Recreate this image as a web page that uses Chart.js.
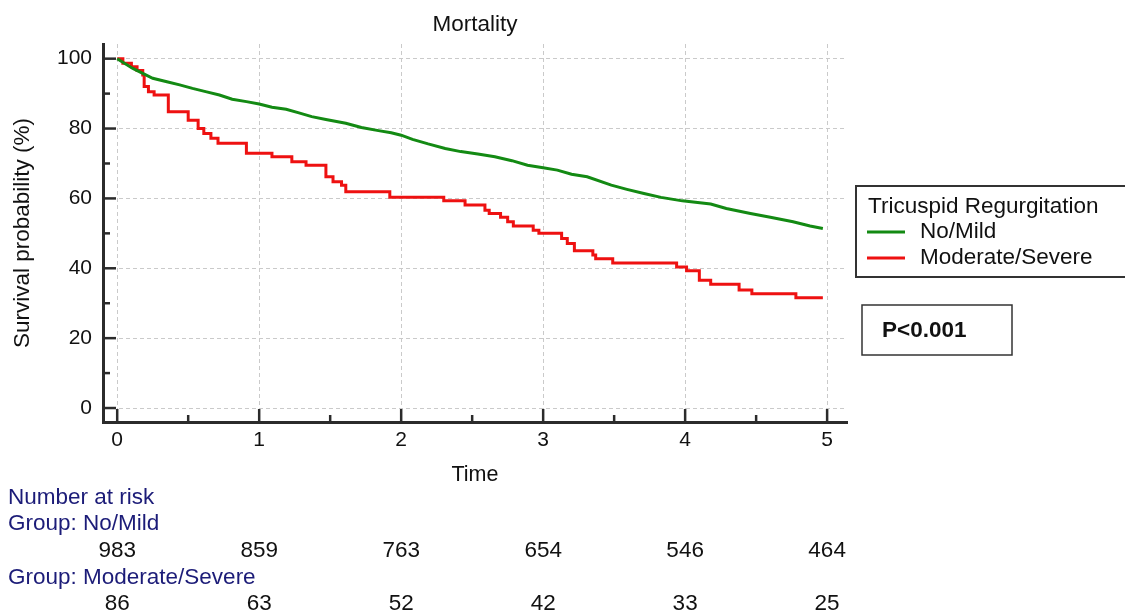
<!DOCTYPE html>
<html>
<head>
<meta charset="utf-8">
<title>Mortality</title>
<script src="https://cdn.jsdelivr.net/npm/chart.js@4.4.1/dist/chart.umd.min.js"></script>
<style>
  html, body { margin: 0; padding: 0; background: #fff; }
  #chart { display: block; }
</style>
</head>
<body>
<canvas id="chart" width="1125" height="613"></canvas>
<script>
const FONT = "'Liberation Sans', Arial, sans-serif";

// axis ticks
const xTicks = [0, 0.5, 1, 1.5, 2, 2.5, 3, 3.5, 4, 4.5, 5];
const yTicks = [0, 10, 20, 30, 40, 50, 60, 70, 80, 90, 100];

// number at risk
const riskTimes = [0, 1, 2, 3, 4, 5];
const riskNoMild = [983, 859, 763, 654, 546, 464];
const riskModSev = [86, 63, 52, 42, 33, 25];

// No/Mild survival
const noMildTime = [0, 0.11, 0.18, 0.25, 0.35, 0.44, 0.53, 0.63, 0.72, 0.81, 0.91, 1.0, 1.09, 1.19, 1.28, 1.37, 1.47,
  1.61, 1.72, 1.84, 1.93, 2.0, 2.08, 2.19, 2.31, 2.42, 2.54, 2.66, 2.78, 2.89, 3.0, 3.10, 3.20, 3.31, 3.48, 3.59,
  3.71, 3.83, 3.98, 4.18, 4.29, 4.46, 4.60, 4.76, 4.88, 4.97];
const noMildSurv = [100, 97.2, 95.8, 94.4, 93.4, 92.5, 91.5, 90.5, 89.6, 88.4, 87.7, 87.0, 86.1, 85.5, 84.5, 83.4, 82.6,
  81.5, 80.3, 79.4, 78.8, 78.1, 76.9, 75.6, 74.3, 73.4, 72.7, 71.9, 70.8, 69.5, 68.8, 68.1, 66.9, 66.2, 63.8, 62.6,
  61.4, 60.3, 59.3, 58.4, 57.1, 55.7, 54.6, 53.3, 52.1, 51.4];

// Moderate/Severe survival (step times and values)
const modSevTime = [0, 0.04, 0.10, 0.14, 0.18, 0.19, 0.22, 0.26, 0.36, 0.50, 0.57, 0.61, 0.66, 0.71, 0.91, 1.09, 1.23,
  1.33, 1.47, 1.52, 1.58, 1.61, 1.92, 2.30, 2.45, 2.59, 2.62, 2.70, 2.75, 2.79, 2.93, 2.97, 3.13, 3.17, 3.22, 3.35,
  3.37, 3.49, 3.94, 4.01, 4.10, 4.18, 4.38, 4.47, 4.78, 4.97];
const modSevSurv = [100, 98.7, 97.7, 96.6, 95.3, 92.0, 90.5, 89.6, 84.8, 82.4, 80.0, 78.6, 77.2, 75.8, 72.9, 71.9, 70.5,
  69.5, 66.2, 64.8, 63.8, 61.9, 60.3, 59.3, 58.1, 56.6, 55.7, 54.6, 53.3, 52.1, 50.9, 50.0, 48.5, 47.1, 45.0, 43.8,
  42.7, 41.5, 40.4, 39.3, 36.6, 35.4, 33.8, 32.7, 31.6, 31.6];

const toPoints = (xs, ys) => xs.map((x, i) => ({ x: x, y: ys[i] }));

// inward tick marks, legend, p-value box and risk table
const extras = {
  id: 'extras',
  afterDraw(chart) {
    const ctx = chart.ctx;
    const area = chart.chartArea;
    const xs = chart.scales.x;
    const ys = chart.scales.y;
    ctx.save();

    // ticks pointing into the plot
    ctx.strokeStyle = '#2b2b2b';
    ctx.lineWidth = 2.5;
    xTicks.forEach(v => {
      const px = xs.getPixelForValue(v);
      const len = Number.isInteger(v) ? 13 : 7;
      ctx.beginPath();
      ctx.moveTo(px, area.bottom);
      ctx.lineTo(px, area.bottom - len);
      ctx.stroke();
    });
    yTicks.forEach(v => {
      const py = ys.getPixelForValue(v);
      const len = v % 20 === 0 ? 13 : 7;
      ctx.beginPath();
      ctx.moveTo(area.left, py);
      ctx.lineTo(area.left + len, py);
      ctx.stroke();
    });

    // legend box
    const lx = area.right + 9;
    ctx.lineWidth = 2;
    ctx.strokeStyle = '#333';
    ctx.strokeRect(lx, 186, 300, 91);
    ctx.fillStyle = '#111';
    ctx.font = '22.5px ' + FONT;
    ctx.textBaseline = 'middle';
    ctx.textAlign = 'left';
    ctx.fillText('Tricuspid Regurgitation', lx + 12, 207);
    chart.data.datasets.forEach((ds, i) => {
      const yy = 232 + i * 26;
      ctx.strokeStyle = ds.borderColor;
      ctx.lineWidth = 3;
      ctx.beginPath();
      ctx.moveTo(lx + 11, yy);
      ctx.lineTo(lx + 49, yy);
      ctx.stroke();
      ctx.fillStyle = '#111';
      ctx.fillText(ds.label, lx + 64, yy);
    });

    // p-value box
    ctx.lineWidth = 1.5;
    ctx.strokeStyle = '#333';
    ctx.strokeRect(lx + 6, 305, 150, 50);
    ctx.font = 'bold 22.5px ' + FONT;
    ctx.fillStyle = '#111';
    ctx.fillText('P<0.001', lx + 26, 331);

    // number at risk table
    ctx.font = '22.5px ' + FONT;
    ctx.fillStyle = '#1c1c78';
    ctx.fillText('Number at risk', 8, 498);
    ctx.fillText('Group: No/Mild', 8, 524);
    ctx.fillText('Group: Moderate/Severe', 8, 578);
    ctx.textAlign = 'center';
    ctx.fillStyle = '#111';
    riskTimes.forEach((t, i) => {
      const px = xs.getPixelForValue(t);
      ctx.fillText(String(riskNoMild[i]), px, 551);
      ctx.fillText(String(riskModSev[i]), px, 604);
    });
    ctx.restore();
  }
};

window.onload = () => {
  new Chart(document.getElementById('chart'), {
    type: 'line',
    data: {
      datasets: [
        {
          label: 'No/Mild',
          data: toPoints(noMildTime, noMildSurv),
          borderColor: '#138a13',
          borderWidth: 3,
          fill: false,
          tension: 0,
        },
        {
          label: 'Moderate/Severe',
          data: toPoints(modSevTime, modSevSurv),
          borderColor: '#ee1111',
          borderWidth: 3,
          fill: false,
          stepped: 'before',
        },
      ],
    },
    options: {
      responsive: false,
      animation: false,
      layout: { padding: { left: 0, top: 0, right: 278, bottom: 121 } },
      elements: { point: { radius: 0 } },
      plugins: {
        legend: { display: false },
        tooltip: { enabled: false },
        title: {
          display: true,
          text: 'Mortality',
          fullSize: false,
          color: '#111',
          font: { family: FONT, size: 22.5, weight: 'normal' },
          padding: { top: 11, bottom: 6 },
        },
      },
      scales: {
        x: {
          type: 'linear',
          min: -0.1,
          max: 5.14,
          afterBuildTicks: s => { s.ticks = xTicks.map(v => ({ value: v })); },
          afterFit: s => { s.height = 70; },
          grid: {
            drawTicks: false,
            color: c => (c.tick && Number.isInteger(c.tick.value)) ? '#cacaca' : 'rgba(0,0,0,0)',
            lineWidth: 1,
          },
          border: { display: true, width: 3, color: '#2b2b2b', dash: [4, 3] },
          ticks: {
            autoSkip: false,
            maxRotation: 0,
            padding: 6,
            color: '#111',
            font: { family: FONT, size: 21 },
            callback: v => Number.isInteger(v) ? String(v) : '',
          },
          title: {
            display: true,
            text: 'Time',
            color: '#111',
            font: { family: FONT, size: 21.5 },
            padding: { top: 0, bottom: 4 },
          },
        },
        y: {
          min: -4,
          max: 104.2,
          afterBuildTicks: s => { s.ticks = yTicks.map(v => ({ value: v })); },
          afterFit: s => { s.width = 103; },
          grid: {
            drawTicks: false,
            color: c => (c.tick && c.tick.value % 20 === 0) ? '#cacaca' : 'rgba(0,0,0,0)',
            lineWidth: 1,
          },
          border: { display: true, width: 3, color: '#2b2b2b', dash: [4, 3] },
          ticks: {
            autoSkip: false,
            padding: 11,
            color: '#111',
            font: { family: FONT, size: 21 },
            callback: v => v % 20 === 0 ? String(v) : '',
          },
          title: {
            display: true,
            text: 'Survival probability (%)',
            color: '#111',
            font: { family: FONT, size: 22.5 },
            padding: { top: 9, bottom: 0 },
          },
        },
      },
    },
    plugins: [extras],
  });
};
</script>
</body>
</html>
